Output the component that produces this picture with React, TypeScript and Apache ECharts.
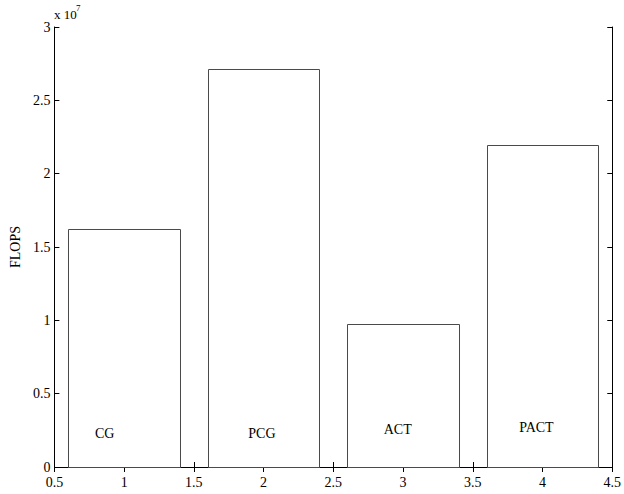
import React, { useEffect, useRef } from "react";
import * as echarts from "echarts";

const categories = ["CG", "PCG", "ACT", "PACT"];
const barPositions = [1, 2, 3, 4];
const flops = [1.622e7, 2.713e7, 0.975e7, 2.195e7];
const labelX = [0.861, 1.988, 2.962, 3.956];
const labelY = [0.228e7, 0.228e7, 0.259e7, 0.266e7];
const yTickValues = [0, 0.5e7, 1e7, 1.5e7, 2e7, 2.5e7, 3e7];
const yTickLabels = ["0", "0.5", "1", "1.5", "2", "2.5", "3"];

const BAR_WIDTH = 0.8;
const FONT = "Liberation Serif";

export default function App() {
  const ref = useRef<HTMLDivElement>(null);

  useEffect(() => {
    if (!ref.current) return;
    const chart = echarts.init(ref.current, undefined, { renderer: "svg" });

    const barData = barPositions.map((x, i) => [x, flops[i]]);
    const labelData = categories.map((c, i) => [labelX[i], labelY[i], c]);

    const axisCommon = {
      axisLine: { show: true, lineStyle: { color: "#000", width: 1 } },
      axisTick: { show: true, inside: true, length: 5, lineStyle: { color: "#000" } },
      splitLine: { show: false },
    };

    chart.setOption({
      animation: false,
      backgroundColor: "#fff",
      textStyle: { fontFamily: FONT },
      grid: { left: 54, right: 11, top: 27, bottom: 27, containLabel: false },
      xAxis: [
        {
          type: "value",
          min: 0.5,
          max: 4.5,
          interval: 0.5,
          position: "bottom",
          ...axisCommon,
          axisLabel: {
            show: true,
            margin: 8,
            color: "#000",
            fontFamily: FONT,
            fontSize: 14,
            formatter: (v: number) => String(v),
          },
        },
        {
          type: "value",
          min: 0.5,
          max: 4.5,
          interval: 0.5,
          position: "top",
          ...axisCommon,
          axisLabel: { show: false },
        },
      ],
      yAxis: [
        {
          type: "value",
          min: 0,
          max: 3e7,
          interval: 0.5e7,
          position: "left",
          name: "FLOPS",
          nameLocation: "middle",
          nameGap: 25,
          nameRotate: 90,
          nameTextStyle: { color: "#000", fontFamily: FONT, fontSize: 14, fontWeight: "normal" },
          ...axisCommon,
          axisLabel: {
            show: true,
            margin: 4,
            color: "#000",
            fontFamily: FONT,
            fontSize: 14,
            formatter: (v: number) => {
              const i = yTickValues.indexOf(v);
              return i >= 0 ? yTickLabels[i] : "";
            },
          },
        },
        {
          type: "value",
          min: 0,
          max: 3e7,
          interval: 0.5e7,
          position: "right",
          ...axisCommon,
          axisLabel: { show: false },
        },
      ],
      graphic: [
        {
          type: "text",
          left: 54,
          top: 8,
          style: { text: "x 10", fill: "#000", fontFamily: FONT, fontSize: 13 },
        },
        {
          type: "text",
          left: 76,
          top: 3,
          style: { text: "7", fill: "#000", fontFamily: FONT, fontSize: 9 },
        },
      ],
      series: [
        {
          type: "custom",
          xAxisIndex: 0,
          yAxisIndex: 0,
          data: barData,
          renderItem: (params: any, api: any) => {
            const x = api.value(0);
            const v = api.value(1);
            const p0 = api.coord([x - BAR_WIDTH / 2, 0]);
            const p1 = api.coord([x + BAR_WIDTH / 2, v]);
            return {
              type: "rect",
              shape: {
                x: Math.round(p0[0]) + 0.5,
                y: Math.round(p1[1]) + 0.5,
                width: Math.round(p1[0]) - Math.round(p0[0]),
                height: Math.round(p0[1]) - Math.round(p1[1]),
              },
              style: { fill: "#fff", stroke: "#4a4a4a", lineWidth: 1 },
            };
          },
        },
        {
          type: "custom",
          xAxisIndex: 0,
          yAxisIndex: 0,
          data: labelData,
          renderItem: (params: any, api: any) => {
            const p = api.coord([api.value(0), api.value(1)]);
            return {
              type: "text",
              x: p[0],
              y: p[1],
              style: {
                text: labelData[params.dataIndex][2],
                fill: "#000",
                fontFamily: FONT,
                fontSize: 14,
                align: "center",
                verticalAlign: "middle",
              },
            };
          },
        },
      ],
    });

    return () => chart.dispose();
  }, []);

  return (
    <div
      ref={ref}
      style={{ position: "absolute", left: 0, top: 0, width: 624, height: 494 }}
    />
  );
}
